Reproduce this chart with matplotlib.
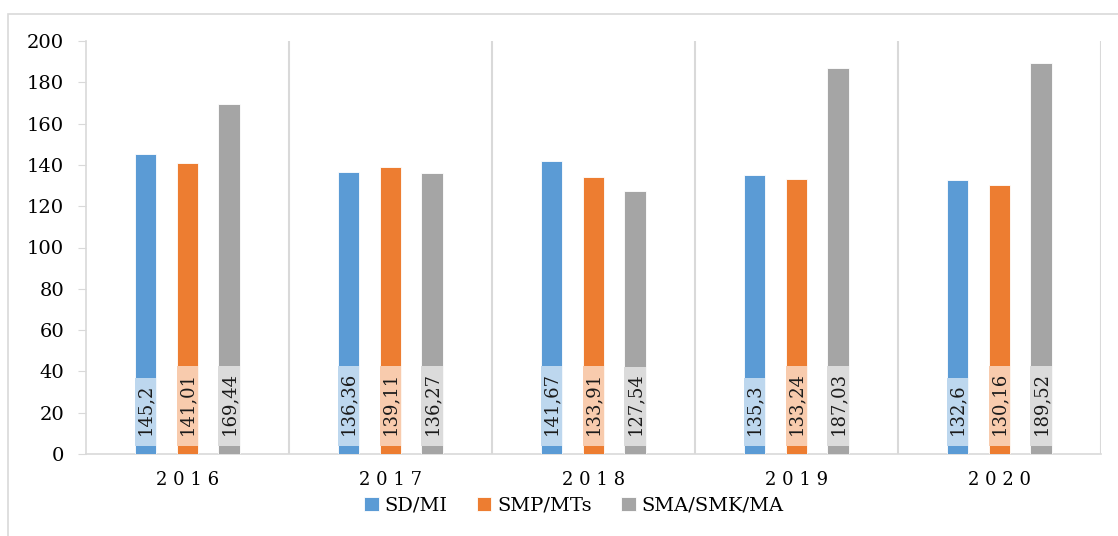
import matplotlib.pyplot as plt
import numpy as np
from matplotlib.patches import Rectangle

years = ['2016', '2017', '2018', '2019', '2020']
sd_mi = [145.2, 136.36, 141.67, 135.3, 132.6]
smp_mts = [141.01, 139.11, 133.91, 133.24, 130.16]
sma_smk_ma = [169.44, 136.27, 127.54, 187.03, 189.52]

names = ['SD/MI', 'SMP/MTs', 'SMA/SMK/MA']
colors = ['#5B9BD5', '#ED7D31', '#A5A5A5']
light = ['#BDD7EE', '#F8CBAD', '#DBDBDB']

plt.rcParams['font.family'] = ['DejaVu Serif']

f = plt.figure(figsize=(11.18, 5.36), dpi=100)
ax = f.add_axes([86/1118, 1-454/536, (1101-86)/1118, (454-41)/536])

x = np.arange(len(years))
barWidth = 0.107
offsets = [-0.207, 0.0, 0.205]
series = [sd_mi, smp_mts, sma_smk_ma]

handles = []
texts = []
for vals, off, c, lc, name in zip(series, offsets, colors, light, names):
    b = ax.bar(x + off, vals, width=barWidth, color=c, edgecolor='white', linewidth=0.6, label=name, zorder=3)
    handles.append(b)
    for xi, v in zip(x, vals):
        lbl = ('%g' % v).replace('.', ',')
        t = ax.text(xi + off, 9.0, lbl, rotation=90, ha='center', va='bottom', fontsize=13,
                    color='#1a1a1a', zorder=5)
        texts.append((t, xi + off, lc))

for b in np.arange(0.5, 5, 1):
    ax.axvline(b, color='#D9D9D9', lw=1.5, zorder=1)

ax.set_xlim(-0.5, 4.5)
ax.set_ylim(0, 200)
ax.set_yticks(np.arange(0, 201, 20))
ax.set_xticks(x)
ax.set_xticklabels([' '.join(y) for y in years], fontsize=13, color='black')
ax.tick_params(axis='x', length=0, pad=12)
ax.tick_params(axis='y', length=5.8, color='#D9D9D9', labelsize=14, labelcolor='black', pad=10)

for sp in ['top', 'right']:
    ax.spines[sp].set_visible(False)
ax.spines['left'].set_color('#D9D9D9')
ax.spines['bottom'].set_color('#D9D9D9')
ax.spines['left'].set_linewidth(1.2)
ax.spines['bottom'].set_linewidth(1.2)

f.legend(handles=handles, loc='center', bbox_to_anchor=(574/1118, 1-506/536), ncol=3,
         frameon=False, fontsize=14, handlelength=0.75, handleheight=0.75, handletextpad=0.3,
         columnspacing=1.5)

# label boxes sized to the text, as wide as the bars
f.canvas.draw()
inv = ax.transData.inverted()
for t, xc, lc in texts:
    bb = t.get_window_extent()
    top = inv.transform((bb.x0, bb.y1 + 6))[1]
    ax.add_patch(Rectangle((xc - barWidth/2, 3.9), barWidth, top - 3.9,
                           facecolor=lc, edgecolor='none', zorder=4))

# chart area border
f.patches.append(Rectangle((8/1118, -0.1), 1.2, 1-14/536+0.1, transform=f.transFigure,
                           fill=False, ec='#D9D9D9', lw=1.2, clip_on=False))

f.savefig('out.png', dpi=100)
